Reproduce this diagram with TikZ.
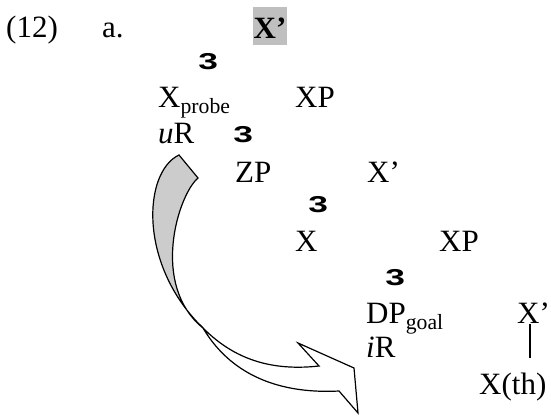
\documentclass[tikz,border=0pt]{standalone}
\usepackage{fontspec}
\setmainfont{Liberation Serif}
\newfontfamily\branchfont{Liberation Mono}
\newcommand{\branchsym}{\scalebox{1.45}[1]{3}}
\tikzset{
  lab/.style={font=\fontsize{31}{31}\selectfont, inner sep=0pt, anchor=base west},
  br/.style={font=\branchfont\bfseries\fontsize{24}{24}\selectfont, inner sep=0pt},
  ribbon/.style={draw, line width=1.2pt, line join=miter}
}
\begin{document}
\begin{tikzpicture}[x=1pt,y=-1pt]
\useasboundingbox (0,0) rectangle (551,415);
% example number
\node[lab] (num) at (6,37) {(12)};
\node[lab] (ex)  at (102,37) {a.};
\node[lab, anchor=base, fill=black!25, text height=31pt, text depth=7pt,
      minimum width=34pt, font=\bfseries\fontsize{31}{31}\selectfont] (top) at (270,38) {X'};
% tree
\node[br]  (b1)     at (208,62)  {\branchsym};
\node[lab] (xprobe) at (158,107) {X\textsubscript{probe}};
\node[lab] (xp1)    at (295,107) {XP};
\node[lab] (ur)     at (158,143) {\textit{u}R};
\node[br]  (b2)     at (243,135) {\branchsym};
\node[lab] (zp)     at (235,182) {ZP};
\node[lab] (xbar1)  at (367,182) {X'};
\node[br]  (b3)     at (318,205) {\branchsym};
\node[lab] (x)      at (295,251) {X};
\node[lab] (xp2)    at (439,251) {XP};
\node[br]  (b4)     at (395,278) {\branchsym};
\node[lab] (dp)     at (366,323) {DP\textsubscript{goal}};
\node[lab] (xbar2)  at (517,323) {X'};
\node[lab] (ir)     at (366,357) {\textit{i}R};
\node[lab] (xth)    at (479,394) {X(th)};
\draw[line width=1.3pt, shorten <=1pt]
  ([xshift=13pt]xbar2.south west) -- ([xshift=13pt,yshift=-35pt]xbar2.south west);
% agree arrow
\draw[ribbon, fill=white] (203,328) .. controls (230,355) and (265,372) .. (319,366)
  -- (298,343) -- (354,368) -- (358,413) -- (339,391)
  .. controls (260,395) and (222,360) .. (203,328) -- cycle;
\draw[ribbon, fill=black!20] (179,155) -- (198,178)
  .. controls (178,195) and (150,285) .. (203,328)
  .. controls (138,265) and (143,172) .. (179,155) -- cycle;
\end{tikzpicture}
\end{document}
